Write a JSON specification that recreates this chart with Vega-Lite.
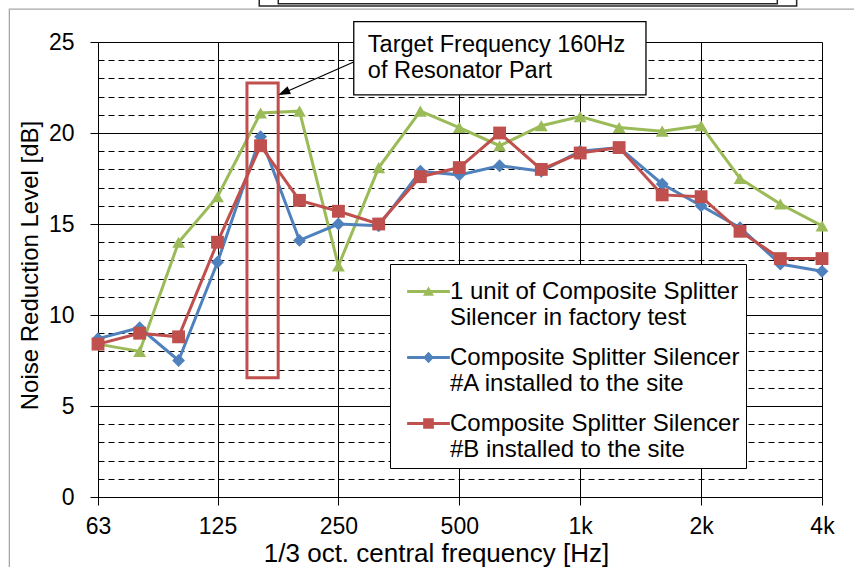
{
  "$schema": "https://vega.github.io/schema/vega-lite/v6.json",
  "width": 724,
  "height": 455,
  "autosize": {"type": "none"},
  "padding": {"left": 98, "top": 42, "right": 32, "bottom": 70},
  "background": "white",
  "config": {
    "font": "Liberation Sans",
    "view": {"stroke": null},
    "axis": {"labelFont": "Liberation Sans", "titleFont": "Liberation Sans"},
    "legend": {"labelFont": "Liberation Sans"}
  },
  "datasets": {
    "series": [
      {"f": 63, "v": 8.4, "s": "1 unit of Composite Splitter Silencer in factory test"},
      {"f": 80, "v": 8.0, "s": "1 unit of Composite Splitter Silencer in factory test"},
      {"f": 100, "v": 14.0, "s": "1 unit of Composite Splitter Silencer in factory test"},
      {"f": 125, "v": 16.5, "s": "1 unit of Composite Splitter Silencer in factory test"},
      {"f": 160, "v": 21.1, "s": "1 unit of Composite Splitter Silencer in factory test"},
      {"f": 200, "v": 21.2, "s": "1 unit of Composite Splitter Silencer in factory test"},
      {"f": 250, "v": 12.7, "s": "1 unit of Composite Splitter Silencer in factory test"},
      {"f": 315, "v": 18.1, "s": "1 unit of Composite Splitter Silencer in factory test"},
      {"f": 400, "v": 21.2, "s": "1 unit of Composite Splitter Silencer in factory test"},
      {"f": 500, "v": 20.3, "s": "1 unit of Composite Splitter Silencer in factory test"},
      {"f": 630, "v": 19.3, "s": "1 unit of Composite Splitter Silencer in factory test"},
      {"f": 800, "v": 20.4, "s": "1 unit of Composite Splitter Silencer in factory test"},
      {"f": 1000, "v": 20.9, "s": "1 unit of Composite Splitter Silencer in factory test"},
      {"f": 1250, "v": 20.3, "s": "1 unit of Composite Splitter Silencer in factory test"},
      {"f": 1600, "v": 20.1, "s": "1 unit of Composite Splitter Silencer in factory test"},
      {"f": 2000, "v": 20.4, "s": "1 unit of Composite Splitter Silencer in factory test"},
      {"f": 2500, "v": 17.5, "s": "1 unit of Composite Splitter Silencer in factory test"},
      {"f": 3150, "v": 16.1, "s": "1 unit of Composite Splitter Silencer in factory test"},
      {"f": 4000, "v": 14.9, "s": "1 unit of Composite Splitter Silencer in factory test"},
      {"f": 63, "v": 8.7, "s": "Composite Splitter Silencer #A installed to the site"},
      {"f": 80, "v": 9.3, "s": "Composite Splitter Silencer #A installed to the site"},
      {"f": 100, "v": 7.5, "s": "Composite Splitter Silencer #A installed to the site"},
      {"f": 125, "v": 12.9, "s": "Composite Splitter Silencer #A installed to the site"},
      {"f": 160, "v": 19.8, "s": "Composite Splitter Silencer #A installed to the site"},
      {"f": 200, "v": 14.1, "s": "Composite Splitter Silencer #A installed to the site"},
      {"f": 250, "v": 15.0, "s": "Composite Splitter Silencer #A installed to the site"},
      {"f": 315, "v": 14.9, "s": "Composite Splitter Silencer #A installed to the site"},
      {"f": 400, "v": 17.9, "s": "Composite Splitter Silencer #A installed to the site"},
      {"f": 500, "v": 17.7, "s": "Composite Splitter Silencer #A installed to the site"},
      {"f": 630, "v": 18.2, "s": "Composite Splitter Silencer #A installed to the site"},
      {"f": 800, "v": 17.9, "s": "Composite Splitter Silencer #A installed to the site"},
      {"f": 1000, "v": 19.0, "s": "Composite Splitter Silencer #A installed to the site"},
      {"f": 1250, "v": 19.2, "s": "Composite Splitter Silencer #A installed to the site"},
      {"f": 1600, "v": 17.2, "s": "Composite Splitter Silencer #A installed to the site"},
      {"f": 2000, "v": 16.0, "s": "Composite Splitter Silencer #A installed to the site"},
      {"f": 2500, "v": 14.8, "s": "Composite Splitter Silencer #A installed to the site"},
      {"f": 3150, "v": 12.8, "s": "Composite Splitter Silencer #A installed to the site"},
      {"f": 4000, "v": 12.4, "s": "Composite Splitter Silencer #A installed to the site"},
      {"f": 63, "v": 8.4, "s": "Composite Splitter Silencer #B installed to the site"},
      {"f": 80, "v": 9.0, "s": "Composite Splitter Silencer #B installed to the site"},
      {"f": 100, "v": 8.8, "s": "Composite Splitter Silencer #B installed to the site"},
      {"f": 125, "v": 14.0, "s": "Composite Splitter Silencer #B installed to the site"},
      {"f": 160, "v": 19.3, "s": "Composite Splitter Silencer #B installed to the site"},
      {"f": 200, "v": 16.3, "s": "Composite Splitter Silencer #B installed to the site"},
      {"f": 250, "v": 15.7, "s": "Composite Splitter Silencer #B installed to the site"},
      {"f": 315, "v": 15.0, "s": "Composite Splitter Silencer #B installed to the site"},
      {"f": 400, "v": 17.6, "s": "Composite Splitter Silencer #B installed to the site"},
      {"f": 500, "v": 18.1, "s": "Composite Splitter Silencer #B installed to the site"},
      {"f": 630, "v": 20.0, "s": "Composite Splitter Silencer #B installed to the site"},
      {"f": 800, "v": 18.0, "s": "Composite Splitter Silencer #B installed to the site"},
      {"f": 1000, "v": 18.9, "s": "Composite Splitter Silencer #B installed to the site"},
      {"f": 1250, "v": 19.2, "s": "Composite Splitter Silencer #B installed to the site"},
      {"f": 1600, "v": 16.6, "s": "Composite Splitter Silencer #B installed to the site"},
      {"f": 2000, "v": 16.5, "s": "Composite Splitter Silencer #B installed to the site"},
      {"f": 2500, "v": 14.6, "s": "Composite Splitter Silencer #B installed to the site"},
      {"f": 3150, "v": 13.1, "s": "Composite Splitter Silencer #B installed to the site"},
      {"f": 4000, "v": 13.1, "s": "Composite Splitter Silencer #B installed to the site"}
    ]
  },
  "encoding": {
    "x": {
      "field": "f",
      "type": "quantitative",
      "scale": {"type": "log", "domain": [63, 4000], "nice": false},
      "axis": {
        "values": [63, 125, 250, 500, 1000, 2000, 4000],
        "labelExpr": "datum.value >= 1000 ? (datum.value / 1000) + 'k' : '' + datum.value",
        "labelFlush": false,
        "labelOverlap": false,
        "grid": true,
        "gridColor": "black",
        "gridWidth": 1,
        "gridOpacity": 1,
        "tickColor": "black",
        "tickSize": 8,
        "tickWidth": 1,
        "domainColor": "black",
        "domainWidth": 1,
        "labelFontSize": 23,
        "labelColor": "black",
        "labelPadding": 10,
        "title": "1/3 oct. central frequency [Hz]",
        "titleFontSize": 26,
        "titleFontWeight": "normal",
        "titleColor": "black",
        "titlePadding": 2,
        "titleX": 338
      }
    },
    "y": {
      "field": "v",
      "type": "quantitative",
      "scale": {"domain": [0, 25], "nice": false},
      "axis": {
        "values": [0, 1, 2, 3, 4, 5, 6, 7, 8, 9, 10, 11, 12, 13, 14, 15, 16, 17, 18, 19, 20, 21, 22, 23, 24, 25],
        "labelExpr": "datum.value % 5 === 0 ? datum.label : ''",
        "grid": true,
        "gridColor": "black",
        "gridWidth": 1,
        "gridOpacity": 1,
        "gridDash": {"condition": {"test": "datum.value % 5 === 0", "value": []}, "value": [6, 4]},
        "tickColor": "black",
        "tickSize": 8,
        "tickOpacity": {"condition": {"test": "datum.value % 5 === 0", "value": 1}, "value": 0},
        "domainColor": "black",
        "domainWidth": 1,
        "labelFontSize": 23,
        "labelColor": "black",
        "labelPadding": 16,
        "title": "Noise Reduction Level [dB]",
        "titleFontSize": 24,
        "titleFontWeight": "normal",
        "titleColor": "black",
        "titlePadding": 6,
        "titleY": 223
      }
    }
  },
  "layer": [
    {
      "data": {"values": [{"f": 37.9, "f2": 6000, "v": 26.81, "v2": -6}]},
      "mark": {"type": "rect", "filled": false, "stroke": "#a6a6a6", "strokeWidth": 1.3},
      "encoding": {"x2": {"field": "f2"}, "y2": {"field": "v2"}}
    },
    {
      "data": {"values": [
        {"f": 158.8, "f2": 3459, "v": 26.98, "v2": 29},
        {"f": 177.1, "f2": 3096, "v": 27.1, "v2": 29}
      ]},
      "mark": {"type": "rect", "filled": false, "stroke": "#262626", "strokeWidth": 1.5},
      "encoding": {"x2": {"field": "f2"}, "y2": {"field": "v2"}}
    },
    {
      "data": {"values": [{"f": 273, "f2": 1458, "v": 22.09, "v2": 26.12}]},
      "mark": {"type": "rect", "fill": "white", "stroke": "black", "strokeWidth": 1.3},
      "encoding": {"x2": {"field": "f2"}, "y2": {"field": "v2"}}
    },
    {
      "data": {"values": [{"f": 296, "v": 24.47}]},
      "mark": {
        "type": "text",
        "text": ["Target Frequency 160Hz", "of Resonator Part"],
        "align": "left",
        "baseline": "alphabetic",
        "fontSize": 23.5,
        "lineHeight": 26.7,
        "color": "black",
        "font": "Liberation Sans"
      }
    },
    {
      "data": {"name": "series"},
      "mark": {"type": "line", "strokeWidth": 3},
      "encoding": {
        "detail": {"field": "s", "type": "nominal"},
        "color": {
          "condition": [
            {"test": "datum.s === 'Composite Splitter Silencer #A installed to the site'", "value": "#4F81BD"},
            {"test": "datum.s === 'Composite Splitter Silencer #B installed to the site'", "value": "#C0504D"}
          ],
          "value": "#9BBB59"
        }
      }
    },
    {
      "data": {"name": "series"},
      "mark": {"type": "point", "filled": true, "size": 165, "opacity": 1},
      "encoding": {
        "color": {
          "condition": [
            {"test": "datum.s === 'Composite Splitter Silencer #A installed to the site'", "value": "#4F81BD"},
            {"test": "datum.s === 'Composite Splitter Silencer #B installed to the site'", "value": "#C0504D"}
          ],
          "value": "#9BBB59"
        },
        "shape": {
          "condition": [
            {"test": "datum.s === 'Composite Splitter Silencer #A installed to the site'", "value": "diamond"},
            {"test": "datum.s === 'Composite Splitter Silencer #B installed to the site'", "value": "square"}
          ],
          "value": "triangle-up"
        }
      }
    },
    {
      "data": {"name": "series"},
      "transform": [{"filter": "false"}],
      "mark": {"type": "point", "filled": true, "size": 1823},
      "encoding": {
        "color": {
          "field": "s",
          "type": "nominal",
          "scale": {
            "domain": ["1 unit of Composite Splitter Silencer in factory test", "Composite Splitter Silencer #A installed to the site", "Composite Splitter Silencer #B installed to the site"],
            "range": ["#9BBB59", "#4F81BD", "#C0504D"]
          },
          "legend": {
            "title": null,
            "orient": "none",
            "legendX": 292,
            "legendY": 222,
            "padding": 6,
            "strokeColor": "black",
            "fillColor": "white",
            "labelExpr": "datum.label == '1 unit of Composite Splitter Silencer in factory test' ? ['1 unit of Composite Splitter', 'Silencer in factory test'] : datum.label == 'Composite Splitter Silencer #A installed to the site' ? ['Composite Splitter Silencer', '#A installed to the site'] : ['Composite Splitter Silencer', '#B installed to the site']",
            "labelFontSize": 24,
            "labelColor": "black",
            "labelLimit": 400,
            "labelOffset": 0,
            "symbolOffset": 11,
            "rowPadding": 6,
            "symbolSize": 1823,
            "symbolStrokeWidth": 0,
            "symbolOpacity": 1
          }
        },
        "shape": {
          "field": "s",
          "type": "nominal",
          "scale": {
            "domain": ["1 unit of Composite Splitter Silencer in factory test", "Composite Splitter Silencer #A installed to the site", "Composite Splitter Silencer #B installed to the site"],
            "range": [
              "M-1,-0.07H1V0.07H-1Z M0,-0.23L0.26,0.2L-0.26,0.2Z",
              "M-1,-0.07H1V0.07H-1Z M-0.25,0L0,-0.27L0.25,0L0,0.27Z",
              "M-1,-0.07H1V0.07H-1Z M-0.25,-0.25H0.25V0.25H-0.25Z"
            ]
          },
          "legend": {
            "title": null,
            "orient": "none",
            "legendX": 292,
            "legendY": 222,
            "padding": 6,
            "strokeColor": "black",
            "fillColor": "white",
            "labelExpr": "datum.label == '1 unit of Composite Splitter Silencer in factory test' ? ['1 unit of Composite Splitter', 'Silencer in factory test'] : datum.label == 'Composite Splitter Silencer #A installed to the site' ? ['Composite Splitter Silencer', '#A installed to the site'] : ['Composite Splitter Silencer', '#B installed to the site']",
            "labelFontSize": 24,
            "labelColor": "black",
            "labelLimit": 400,
            "labelOffset": 0,
            "symbolOffset": 11,
            "rowPadding": 6,
            "symbolSize": 1823,
            "symbolStrokeWidth": 0,
            "symbolOpacity": 1
          }
        }
      }
    },
    {
      "data": {"values": [{"f": 148, "f2": 177, "v": 6.55, "v2": 22.75}]},
      "mark": {"type": "rect", "filled": false, "stroke": "#C0504D", "strokeWidth": 3},
      "encoding": {"x2": {"field": "f2"}, "y2": {"field": "v2"}}
    },
    {
      "data": {"values": [{"f": 272.9, "f2": 180, "v": 23.9, "v2": 22.14}]},
      "mark": {"type": "rule", "color": "black", "strokeWidth": 1.2},
      "encoding": {"x2": {"field": "f2"}, "y2": {"field": "v2"}}
    },
    {
      "data": {"values": [{"f": 177.1, "v": 22.09}]},
      "mark": {"type": "point", "shape": "M0,0L2,-0.7L2,0.7Z", "angle": 336, "size": 144, "filled": true, "color": "black", "opacity": 1}
    }
  ]
}
